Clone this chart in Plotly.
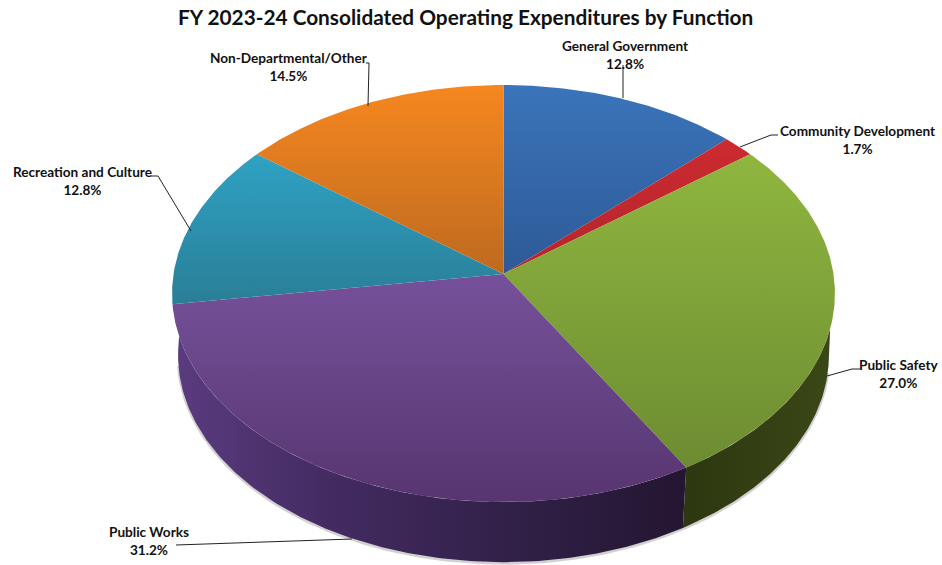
import numpy as np
import plotly.graph_objects as go

# ---- data ----
categories = ["General Government", "Community Development", "Public Safety",
              "Public Works", "Recreation and Culture", "Non-Departmental/Other"]
shares = [12.8, 1.7, 27.0, 31.2, 12.8, 14.5]
title_text = "FY 2023-24 Consolidated Operating Expenditures by Function"

# ---- style ----
top_colors = [("#3b74ba", "#2d5a97"), ("#cc2a30", "#b3262b"), ("#8fb63f", "#6d8c32"),
              ("#76519b", "#57356f"), ("#2fa2c3", "#2a7e96"), ("#f6871f", "#bd6a20")]
FONT = "Lato"
W, H = 942, 565
CX, CY, A, B, K = 503.5, 274.0, 330.0, 206.7, 0.0936
B_CY, B_A, B_B = 336.0, 324.0, 205.0

label_pos = {"General Government": (625, 55), "Community Development": (857, 140),
             "Public Safety": (899, 374), "Public Works": (149, 541),
             "Recreation and Culture": (82, 181), "Non-Departmental/Other": (289, 67)}
leaders = {"General Government": [(623, 65), (623, 98)],
           "Community Development": [(778, 135), (771, 135), (740, 147)],
           "Public Safety": [(860, 369), (852, 369), (827, 376)],
           "Public Works": [(176, 545), (352, 539)],
           "Recreation and Culture": [(151, 176), (158, 176), (191, 231)],
           "Non-Departmental/Other": [(366, 63), (369, 63), (368, 106)]}


def rim(theta, cy=CY, a=A, b=B):
    """Perspective projection of a pie-circle angle (radians, clockwise from 12 o'clock)."""
    x, y = np.sin(theta), np.cos(theta)
    w = 1 + K * y
    return CX + a * x / w, cy - b * y / w


cum = np.cumsum([0] + shares) / sum(shares) * 2 * np.pi
fig = go.Figure()


def poly(xs, ys, name, grad, line=None):
    fig.add_trace(go.Scatter(x=xs, y=ys, mode="lines", fill="toself", name=name,
                             fillgradient=grad, line=line or dict(width=0),
                             hoverinfo="skip", showlegend=False))


# soft shadow under the wall
th = np.linspace(np.radians(100), np.radians(262), 200)
sx, sy = rim(th, B_CY, B_A, B_B)
fig.add_trace(go.Scatter(x=sx, y=sy + 1, mode="lines", line=dict(color="rgba(90,90,90,0.28)", width=3),
                         hoverinfo="skip", showlegend=False))

# walls
boundary = cum[3]
th_b = np.linspace(np.radians(98), boundary, 80)
bx, by = rim(th_b, B_CY, B_A, B_B)
th_t = np.linspace(boundary, np.radians(105), 80)
tx, ty = rim(th_t)
poly(np.r_[bx, tx], np.r_[by, ty], "Public Safety wall",
     dict(type="horizontal", colorscale=[[0, "#2d3710"], [1, "#3a4716"]]))

th_b = np.linspace(boundary, np.radians(266), 160)
bx, by = rim(th_b, B_CY, B_A, B_B)
th_t = np.linspace(np.radians(253), boundary, 160)
tx, ty = rim(th_t)
poly(np.r_[bx, tx], np.r_[by, ty], "Public Works wall",
     dict(type="horizontal", colorscale=[[0, "#5a3b7f"], [0.3, "#432b61"], [0.7, "#2f1f45"], [1, "#241531"]]))

# top faces
for i, cat in enumerate(categories):
    th = np.linspace(cum[i], cum[i + 1], max(8, int(shares[i] * 8)))
    x, y = rim(th)
    xs = np.r_[CX, x, CX]
    ys = np.r_[CY, y, CY]
    c0, c1 = top_colors[i]
    poly(xs, ys, cat, dict(type="vertical", colorscale=[[0, c0], [1, c1]],
                           start=float(ys.min()), stop=float(ys.max())))

# leader lines
for cat in categories:
    pts = leaders[cat]
    fig.add_trace(go.Scatter(x=[p[0] for p in pts], y=[p[1] for p in pts], mode="lines",
                             line=dict(color="#222222", width=1), hoverinfo="skip", showlegend=False))

# labels
for cat, val in zip(categories, shares):
    lx, ly = label_pos[cat]
    fig.add_annotation(x=lx, y=ly, xref="x", yref="y", showarrow=False, align="center",
                       text=f"<b>{cat}<br>{val:.1f}%</b>",
                       font=dict(family=FONT, size=13.6, color="#111111"))
fig.add_annotation(x=465, y=16.5, xref="x", yref="y", showarrow=False,
                   text=f"<b>{title_text}</b>", font=dict(family=FONT, size=20.8, color="#111111"))

fig.update_layout(width=W, height=H, margin=dict(l=0, r=0, t=0, b=0), autosize=False,
                  paper_bgcolor="white", plot_bgcolor="white", showlegend=False,
                  xaxis=dict(range=[0, W], visible=False, fixedrange=True),
                  yaxis=dict(range=[H, 0], visible=False, fixedrange=True))
fig.write_html("out.html", config={"displayModeBar": False},
               post_script="document.documentElement.style.overflow='hidden';document.body.style.margin='0';")
